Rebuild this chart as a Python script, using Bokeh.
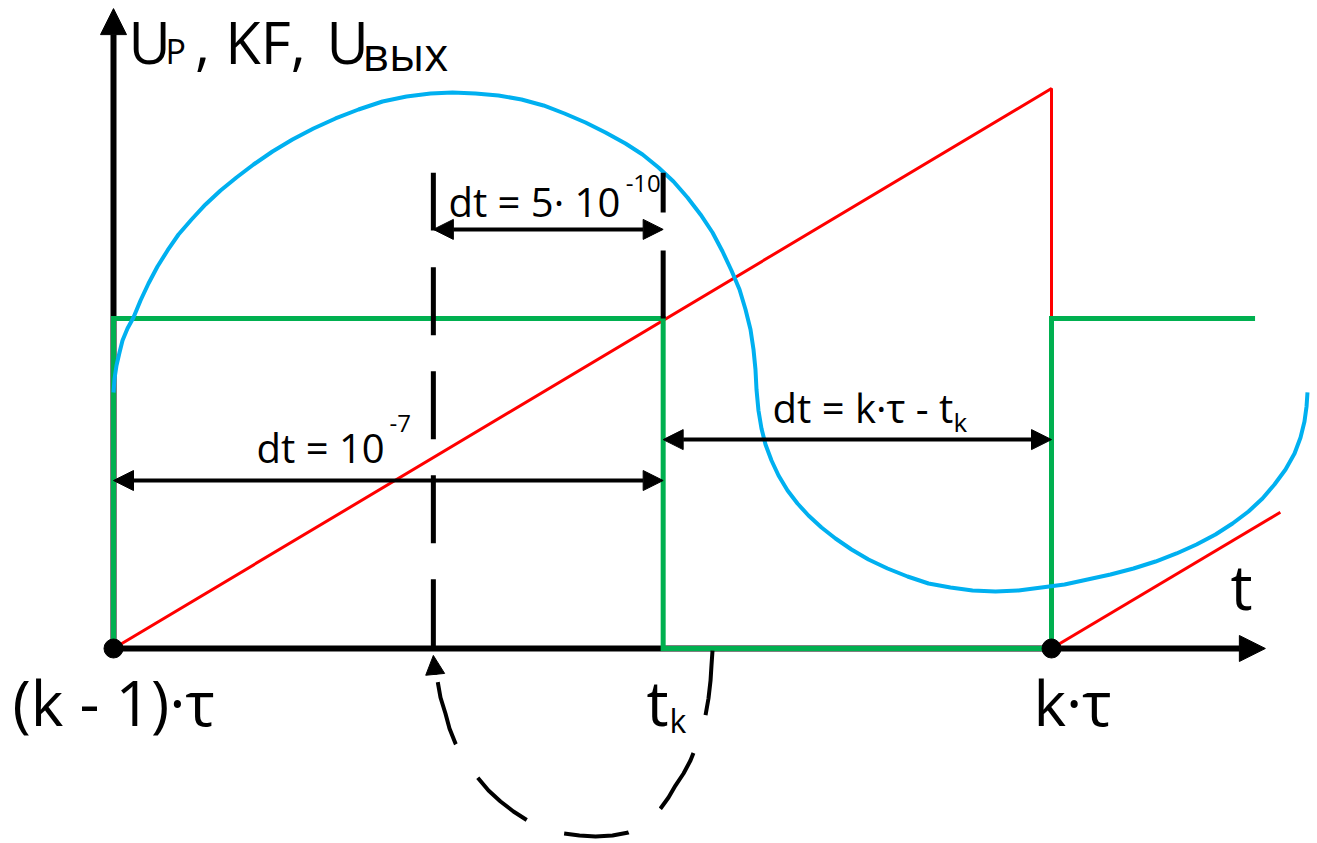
from bokeh.plotting import figure
from bokeh.models import Range1d, Label, Arrow, NormalHead
from bokeh.embed import file_html
from bokeh.resources import INLINE

# Time is measured in hundredths of tau from (k-1)*tau; levels in percent of the KF pulse height.
T_START = 0.0     # (k - 1)*tau
T_MID = 34.1      # start of the fine step interval
T_K = 58.6        # t_k, ramp reaches the threshold
T_END = 100.0     # k*tau
T_AXIS_END = 122.8
V_AXIS_END = 193.9

# KF: comparator pulses (green)
kf_t = [0.0, 0.0, T_K, T_K, T_END, T_END, 121.7]
kf_v = [0.0, 100.0, 100.0, 0.0, 0.0, 100.0, 100.0]

# Up: sawtooth ramp (red)
up_t = [0.0, T_END, T_END]
up_v = [0.0, 169.7, 0.0]
up_next_t = [T_END, 124.4]
up_next_v = [0.0, 41.3]

# Uout: output voltage (blue)
uout_t = [0.00, 0.11, 0.32, 0.64, 0.96, 1.49, 2.13, 2.88, 3.73, 4.69, 5.76, 6.93, 8.32,
          9.81, 11.41, 13.11, 14.93, 16.95, 19.08, 21.32, 23.67, 26.12, 28.68, 31.24,
          33.80, 36.14, 38.59, 41.04, 43.50, 45.84, 48.08, 50.32, 52.45, 54.58, 56.40,
          58.10, 59.70, 61.19, 62.58, 63.86, 64.93, 65.88, 66.74, 67.38, 67.91, 68.23,
          68.44, 68.55, 68.76, 69.08, 69.51, 70.15, 70.90, 71.86, 72.92, 74.09, 75.48,
          76.97, 78.68, 80.49, 82.52, 84.65, 86.89, 89.23, 91.58, 94.03, 96.48, 98.93,
          101.39, 103.84, 106.29, 108.74, 111.09, 113.33, 115.46, 117.48, 119.30, 121.00,
          122.49, 123.77, 124.95, 125.91, 126.55, 126.97, 127.19, 127.29]
uout_v = [77.58, 81.82, 85.76, 89.70, 93.33, 96.97, 100.30, 105.45, 110.61, 115.76, 120.61,
          125.45, 130.00, 134.55, 138.79, 142.73, 146.67, 150.61, 154.24, 157.58, 160.61,
          163.33, 165.76, 167.27, 168.18, 168.48, 168.18, 167.58, 166.36, 164.55, 162.12,
          159.39, 156.36, 153.03, 149.70, 145.76, 141.52, 136.67, 131.52, 126.06, 120.30,
          114.55, 108.79, 102.73, 96.67, 90.61, 84.55, 78.48, 72.12, 66.67, 61.82, 56.97,
          52.42, 47.88, 43.94, 40.30, 36.67, 33.33, 30.00, 26.97, 24.24, 21.82, 19.70,
          18.48, 17.58, 17.27, 17.58, 18.48, 19.39, 20.91, 22.42, 24.24, 26.36, 28.79,
          31.52, 34.55, 37.88, 41.52, 45.45, 49.70, 54.24, 59.09, 63.94, 68.79, 73.33,
          77.58]

# dimension lines: (from, to, level)
dim_fine = (T_MID, T_K, 127.0)
dim_coarse = (T_START, T_K, 50.9)
dim_rest = (T_K, T_END, 63.3)

# return path from t_k back to the fine-step start (dashed, below the axis)
loop_t = [63.86, 63.75, 63.65, 63.43, 63.11, 62.79, 62.37, 61.94, 61.51, 60.77, 59.91,
          59.17, 58.32, 57.57, 56.72, 55.86, 54.90, 53.20, 51.39, 49.68, 47.97, 46.70,
          45.52, 44.14, 42.64, 41.26, 39.98, 38.81, 37.95, 37.21, 36.46, 35.82, 35.39,
          34.86, 34.54, 34.33, 34.22]
loop_v = [-0.61, -5.15, -9.70, -15.15, -20.30, -24.24, -27.88, -30.91, -33.94, -37.88,
          -41.52, -45.15, -48.48, -50.91, -53.03, -54.55, -55.76, -56.67, -56.97, -56.67,
          -56.06, -55.15, -53.94, -52.12, -49.39, -46.36, -43.03, -39.09, -35.76, -32.42,
          -28.79, -24.24, -19.70, -14.85, -9.70, -6.67, -4.24]

BLUE = "#00B0F0"
RED = "#FF0000"
GREEN = "#00B050"
FONT = "Open Sans"

p = figure(width=1317, height=843,
           x_range=Range1d(-12.047, 128.358), y_range=Range1d(-59.09, 196.36),
           output_backend="svg", toolbar_location=None,
           x_axis_type=None, y_axis_type=None, min_border=0)
p.outline_line_color = None
p.background_fill_color = "white"
p.border_fill_color = "white"

# coordinate axes with arrowheads, drawn beneath the curves
for xs, ys, xe, ye in [(0, 0, 0, V_AXIS_END), (0, 0, T_AXIS_END, 0)]:
    p.add_layout(Arrow(x_start=xs, y_start=ys, x_end=xe, y_end=ye,
                       line_width=6, line_color="black", level="underlay",
                       end=NormalHead(size=26, fill_color="black", line_color="black", line_width=1)))

p.line(up_t, up_v, line_color=RED, line_width=3)
p.line(up_next_t, up_next_v, line_color=RED, line_width=3)
p.line(kf_t, kf_v, line_color=GREEN, line_width=5, line_join="miter")
p.line(uout_t, uout_v, line_color=BLUE, line_width=4, line_join="round")

# marker lines at the fine-step start and at t_k
p.line([T_MID, T_MID], [115.5, 0.0], line_color="black", line_width=5, line_dash="68 36")
p.line([T_MID, T_MID], [144.2, 126.7], line_color="black", line_width=5)
p.line([T_K, T_K], [144.2, 132.1], line_color="black", line_width=5)
p.line([T_K, T_K], [120.6, 100.0], line_color="black", line_width=5)

# dashed return loop
p.line(loop_t, loop_v, line_color="black", line_width=4, line_dash="65 40", line_join="round")
p.add_layout(Arrow(x_start=34.3, y_start=-8.0, x_end=34.1, y_end=-2.1,
                   line_width=4, line_color="black",
                   end=NormalHead(size=19, fill_color="black", line_color="black", line_width=1)))

# double-headed dimension arrows
for a, b, lvl in [dim_fine, dim_coarse, dim_rest]:
    p.add_layout(Arrow(x_start=a, y_start=lvl, x_end=b, y_end=lvl,
                       line_width=4, line_color="black",
                       start=NormalHead(size=20, fill_color="black", line_color="black", line_width=1),
                       end=NormalHead(size=20, fill_color="black", line_color="black", line_width=1)))

p.scatter([T_START, T_END], [0.0, 0.0], size=19, color="black")

labels = [
    ("U", 1.60, 176.97, 58),
    ("Р", 5.54, 176.97, 34),
    (", KF,", 8.70, 176.97, 58),
    ("U", 22.71, 176.97, 58),
    ("вых", 26.55, 174.85, 46),
    ("dt = 10", 15.25, 56.06, 40),
    ("-7", 29.42, 65.15, 24),
    ("dt = 5· 10", 35.71, 130.6, 40),
    ("-10", 54.60, 137.9, 24),
    ("dt = k·τ - t", 70.26, 68.18, 40),
    ("k", 89.55, 65.45, 26),
    ("(k - 1)·τ", -10.77, -23.64, 62),
    ("t", 56.82, -23.64, 62),
    ("k", 59.28, -25.76, 32),
    ("k·τ", 98.08, -23.64, 62),
    ("t", 119.08, 11.52, 62),
]
for txt, x, y, size in labels:
    p.add_layout(Label(x=x, y=y, text=txt, text_font=FONT, text_font_size=f"{size}px",
                       y_offset=0.4 * size,
                       text_color="black", text_baseline="alphabetic", text_align="left"))

open("out.html", "w").write(file_html(p, INLINE))
